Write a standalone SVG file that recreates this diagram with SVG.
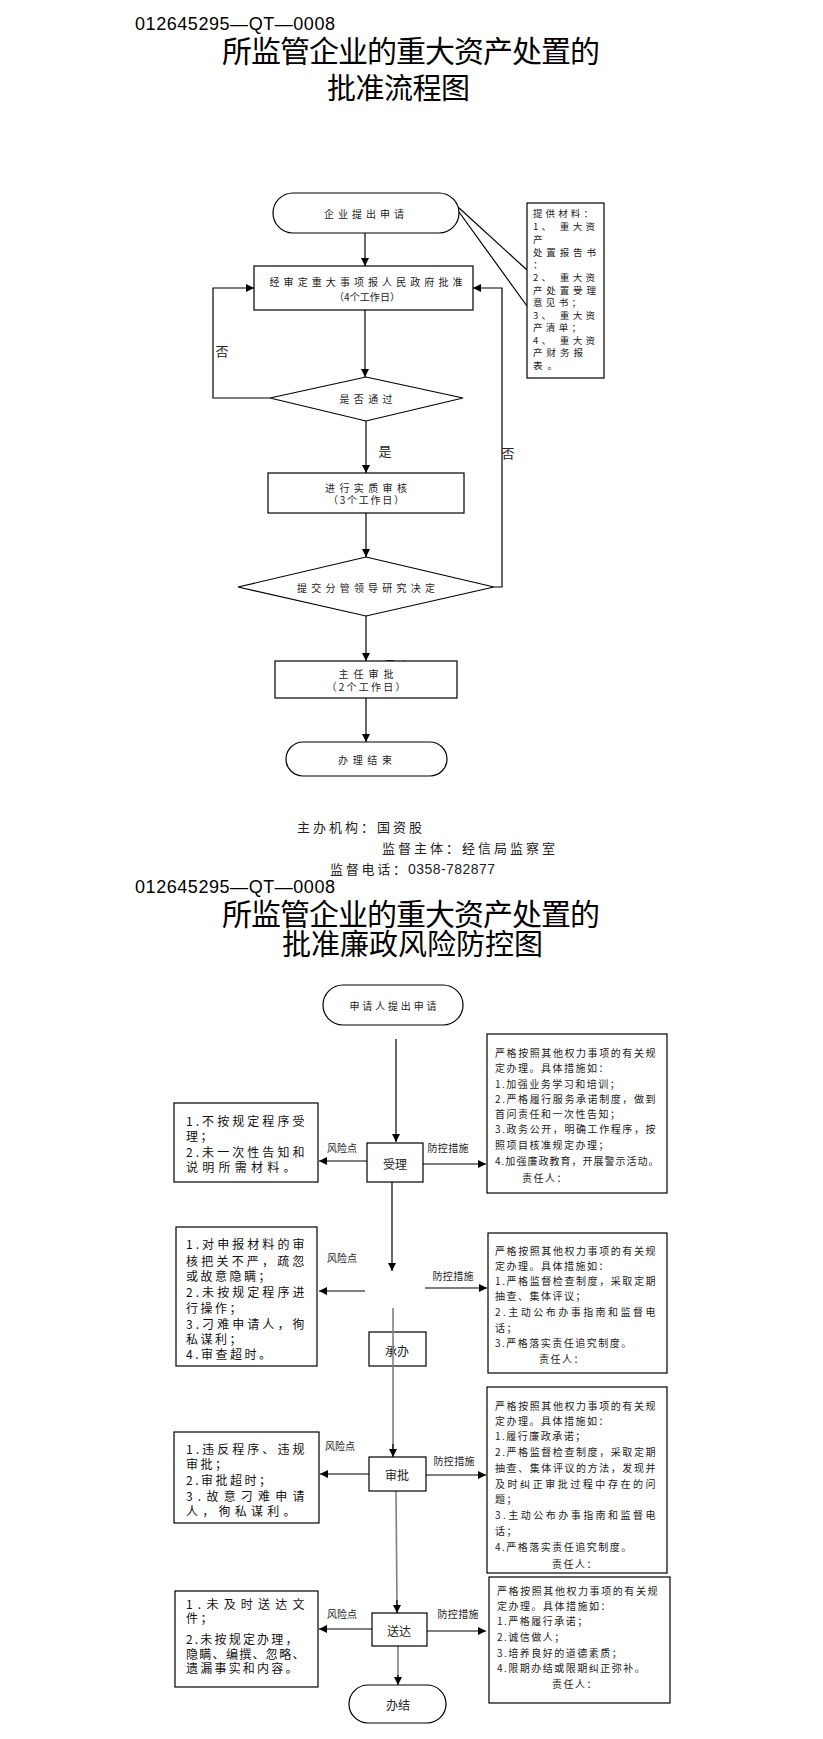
<svg xmlns="http://www.w3.org/2000/svg" width="823" height="1739" viewBox="0 0 823 1739">
<style>
.bg{fill:#fff}
.box{fill:#fff;stroke:#000;stroke-width:1.2}
.ln{fill:none;stroke:#000;stroke-width:1.2}
.gl{fill:none;stroke:#808080;stroke-width:1.6}
.code{font-family:"Liberation Sans","Noto Sans CJK SC",sans-serif;font-size:18px;fill:#000}
.title{font-family:"Noto Sans CJK SC",sans-serif;font-size:30px;fill:#000}
.title2{font-family:"Noto Sans CJK SC",sans-serif;font-size:29px;fill:#000}
.s{font-family:"Noto Sans CJK SC",sans-serif;font-size:10px;fill:#222;text-anchor:middle;dominant-baseline:central}
.n{font-family:"Noto Sans CJK SC",sans-serif;font-size:9.5px;fill:#222;dominant-baseline:central}
.lbl{font-family:"Noto Sans CJK SC",sans-serif;font-size:13px;fill:#222;text-anchor:middle;dominant-baseline:central}
.ft{font-family:"Noto Sans CJK SC",sans-serif;font-size:13px;fill:#222}
.dg{font-family:"Liberation Sans",sans-serif;font-size:14px;fill:#222}
.r{font-family:"Noto Sans CJK SC",sans-serif;font-size:12px;letter-spacing:2.5px;fill:#111;dominant-baseline:central}
.m{font-family:"Noto Sans CJK SC",sans-serif;font-size:10px;letter-spacing:1.5px;fill:#222;dominant-baseline:central}
.mc{font-family:"Noto Sans CJK SC",sans-serif;font-size:10px;letter-spacing:1.5px;fill:#222;dominant-baseline:central;text-anchor:middle}
.k{font-family:"Noto Sans CJK SC",sans-serif;font-size:10px;fill:#222;text-anchor:middle;dominant-baseline:central}
.c{font-family:"Noto Sans CJK SC",sans-serif;font-size:12px;fill:#222;text-anchor:middle;dominant-baseline:central}
</style>
<defs>
<marker id="ah" markerWidth="8" markerHeight="8" refX="8" refY="4" orient="auto" markerUnits="userSpaceOnUse">
<path d="M0,0 L8,4 L0,8 z" fill="#000"/>
</marker>
</defs>
<rect class="bg" x="0" y="0" width="823" height="1739"/>

<g id="header1">
<text class="code" x="135" y="30" textLength="200" lengthAdjust="spacing">012645295—QT—0008</text>
<text class="title" x="222" y="62" textLength="378" lengthAdjust="spacing">所监管企业的重大资产处置的</text>
<text class="title2" x="327" y="99" textLength="143" lengthAdjust="spacing">批准流程图</text>
</g>

<g id="connectors1">
<line class="ln" x1="365" y1="233" x2="365" y2="266" marker-end="url(#ah)"/>
<line class="ln" x1="365" y1="310" x2="365" y2="377" marker-end="url(#ah)"/>
<polyline class="ln" points="270,398 213,398 213,288 254,288" marker-end="url(#ah)"/>
<line class="ln" x1="366" y1="421" x2="366" y2="473" marker-end="url(#ah)"/>
<line class="ln" x1="366" y1="513" x2="366" y2="557" marker-end="url(#ah)"/>
<polyline class="ln" points="494,587 502,587 502,288 473,288" marker-end="url(#ah)"/>
<line class="ln" x1="366" y1="616" x2="366" y2="661" marker-end="url(#ah)"/>
<line class="ln" x1="366" y1="698" x2="366" y2="742" marker-end="url(#ah)"/>
<line class="ln" x1="458" y1="207" x2="527" y2="270"/>
<line class="ln" x1="459" y1="212" x2="527" y2="306"/>
<text class="lbl" x="222" y="350">否</text>
<text class="lbl" x="385" y="450">是</text>
<text class="lbl" x="508" y="452">否</text>
<text class="s" x="397" y="664" textLength="24" lengthAdjust="spacing">同意</text>
</g>

<g id="start1">
<rect class="box" x="273" y="193" width="186" height="40" rx="20"/>
<text class="s" x="364" y="213" textLength="80" lengthAdjust="spacing">企业提出申请</text>
</g>
<g id="approve_gov">
<rect class="box" x="254" y="266" width="219" height="44"/>
<text class="s" x="366" y="281" textLength="193" lengthAdjust="spacing">经审定重大事项报人民政府批准</text>
<text class="s" x="367" y="296" textLength="66" lengthAdjust="spacing">（4个工作日）</text>
</g>
<g id="pass">
<polygon class="box" points="366,377 463,398 366,421 270,398"/>
<text class="s" x="366" y="398" textLength="53" lengthAdjust="spacing">是否通过</text>
</g>
<g id="review">
<rect class="box" x="268" y="473" width="196" height="40"/>
<text class="s" x="366" y="487" textLength="82" lengthAdjust="spacing">进行实质审核</text>
<text class="s" x="366" y="499" textLength="76" lengthAdjust="spacing">（3个工作日）</text>
</g>
<g id="leader">
<polygon class="box" points="366,557 494,587 366,616 238,587"/>
<text class="s" x="366" y="587" textLength="138" lengthAdjust="spacing">提交分管领导研究决定</text>
</g>
<g id="director">
<rect class="box" x="275" y="661" width="182" height="37"/>
<text class="s" x="366" y="673" textLength="55" lengthAdjust="spacing">主任审批</text>
<text class="s" x="366" y="686" textLength="79" lengthAdjust="spacing">（2个工作日）</text>
</g>
<g id="end1">
<rect class="box" x="286" y="742" width="161" height="34" rx="17"/>
<text class="s" x="365" y="759" textLength="54" lengthAdjust="spacing">办理结束</text>
</g>
<g id="materials">
<rect class="box" x="527" y="203" width="77" height="175"/>
<text class="n" x="533" y="213" textLength="60" lengthAdjust="spacing">提供材料：</text>
<text class="n" x="533" y="226" textLength="62" lengthAdjust="spacing">1、 重大资</text>
<text class="n" x="533" y="239">产</text>
<text class="n" x="533" y="252" textLength="63" lengthAdjust="spacing">处置报告书</text>
<text class="n" x="533" y="264">：</text>
<text class="n" x="533" y="277" textLength="62" lengthAdjust="spacing">2、 重大资</text>
<text class="n" x="533" y="290" textLength="63" lengthAdjust="spacing">产处置受理</text>
<text class="n" x="533" y="302" textLength="48" lengthAdjust="spacing">意见书；</text>
<text class="n" x="533" y="315" textLength="62" lengthAdjust="spacing">3、 重大资</text>
<text class="n" x="533" y="327" textLength="48" lengthAdjust="spacing">产清单；</text>
<text class="n" x="533" y="340" textLength="62" lengthAdjust="spacing">4、 重大资</text>
<text class="n" x="533" y="352" textLength="50" lengthAdjust="spacing">产财务报</text>
<text class="n" x="533" y="365" textLength="24" lengthAdjust="spacing">表。</text>
</g>

<g id="footer">
<text class="ft" x="297" y="832" textLength="125" lengthAdjust="spacing">主办机构：国资股</text>
<text class="ft" x="382" y="853" textLength="173" lengthAdjust="spacing">监督主体：经信局监察室</text>
<text class="ft" x="330" y="874" textLength="76" lengthAdjust="spacing">监督电话：</text>
<text class="dg" x="408" y="874" textLength="87" lengthAdjust="spacing">0358-782877</text>
</g>

<g id="header2">
<text class="code" x="135" y="893" textLength="200" lengthAdjust="spacing">012645295—QT—0008</text>
<text class="title" x="222" y="925" textLength="378" lengthAdjust="spacing">所监管企业的重大资产处置的</text>
<text class="title2" x="282" y="955" textLength="261" lengthAdjust="spacing">批准廉政风险防控图</text>
</g>

<g id="connectors2">
<line class="ln" x1="396" y1="1039" x2="396" y2="1142" stroke="#222" marker-end="url(#ah)"/>
<line class="ln" x1="392" y1="1182" x2="392" y2="1271" marker-end="url(#ah)"/>
<line class="ln" x1="367" y1="1161" x2="319" y2="1161" marker-end="url(#ah)"/>
<line class="ln" x1="423" y1="1164" x2="486" y2="1164" marker-end="url(#ah)"/>
<line class="ln" x1="365" y1="1291" x2="319" y2="1291" marker-end="url(#ah)"/>
<line class="ln" x1="425" y1="1288" x2="487" y2="1288" marker-end="url(#ah)"/>
<line class="ln" x1="369" y1="1474" x2="320" y2="1474" marker-end="url(#ah)"/>
<line class="ln" x1="426" y1="1475" x2="486" y2="1475" marker-end="url(#ah)"/>
<line class="gl" x1="396" y1="1491" x2="397" y2="1605"/>
<line class="ln" x1="397" y1="1600" x2="397" y2="1613" marker-end="url(#ah)"/>
<line class="ln" x1="372" y1="1629" x2="319" y2="1629" marker-end="url(#ah)"/>
<line class="ln" x1="427" y1="1631" x2="486" y2="1631" marker-end="url(#ah)"/>
<line class="gl" x1="398" y1="1646" x2="398" y2="1680"/>
<line class="ln" x1="398" y1="1675" x2="398" y2="1685" marker-end="url(#ah)"/>
<text class="k" x="342" y="1147" textLength="30" lengthAdjust="spacing">风险点</text>
<text class="k" x="448" y="1147" textLength="41" lengthAdjust="spacing">防控措施</text>
<text class="k" x="342" y="1257" textLength="30" lengthAdjust="spacing">风险点</text>
<text class="k" x="453" y="1275" textLength="41" lengthAdjust="spacing">防控措施</text>
<text class="k" x="340" y="1445" textLength="30" lengthAdjust="spacing">风险点</text>
<text class="k" x="454" y="1460" textLength="41" lengthAdjust="spacing">防控措施</text>
<text class="k" x="342" y="1613" textLength="30" lengthAdjust="spacing">风险点</text>
<text class="k" x="458" y="1613" textLength="41" lengthAdjust="spacing">防控措施</text>
</g>

<g id="start2">
<rect class="box" x="323" y="985" width="140" height="40" rx="20"/>
<text class="k" x="393" y="1005" textLength="87" lengthAdjust="spacing">申请人提出申请</text>
</g>

<g id="accept">
<rect class="box" x="367" y="1143" width="56" height="39"/>
<text class="c" x="395" y="1163">受理</text>
</g>
<g id="risk1">
<rect class="box" x="174" y="1103" width="144" height="79"/>
<text class="r" x="186" y="1120" textLength="121" lengthAdjust="spacing">1.不按规定程序受</text>
<text class="r" x="186" y="1135">理；</text>
<text class="r" x="186" y="1151" textLength="121" lengthAdjust="spacing">2.未一次性告知和</text>
<text class="r" x="186" y="1166" textLength="112" lengthAdjust="spacing">说明所需材料。</text>
</g>
<g id="ctrl1">
<rect class="box" x="487" y="1034" width="180" height="159"/>
<text class="m" x="495" y="1052" textLength="162" lengthAdjust="spacing">严格按照其他权力事项的有关规</text>
<text class="m" x="495" y="1067">定办理。具体措施如：</text>
<text class="m" x="495" y="1083">1.加强业务学习和培训；</text>
<text class="m" x="495" y="1098" textLength="162" lengthAdjust="spacing">2.严格履行服务承诺制度，做到</text>
<text class="m" x="495" y="1113">首问责任和一次性告知；</text>
<text class="m" x="495" y="1128" textLength="162" lengthAdjust="spacing">3.政务公开，明确工作程序，按</text>
<text class="m" x="495" y="1144">照项目核准规定办理；</text>
<text class="m" x="495" y="1160" textLength="165" lengthAdjust="spacing">4.加强廉政教育，开展警示活动。</text>
<text class="m" x="522" y="1177">责任人：</text>
</g>

<g id="handle">
<rect class="box" x="369" y="1332" width="57" height="34"/>
<text class="c" x="397" y="1350">承办</text>
</g>
<line class="gl" x1="393" y1="1308" x2="393" y2="1452"/>
<line class="ln" x1="393" y1="1444" x2="393" y2="1457" marker-end="url(#ah)"/>
<g id="risk2">
<rect class="box" x="176" y="1227" width="141" height="139"/>
<text class="r" x="186" y="1243" textLength="121" lengthAdjust="spacing">1.对申报材料的审</text>
<text class="r" x="186" y="1260" textLength="121" lengthAdjust="spacing">核把关不严，疏忽</text>
<text class="r" x="186" y="1275">或故意隐瞒；</text>
<text class="r" x="186" y="1291" textLength="121" lengthAdjust="spacing">2.未按规定程序进</text>
<text class="r" x="186" y="1307">行操作；</text>
<text class="r" x="186" y="1323" textLength="121" lengthAdjust="spacing">3.刁难申请人，徇</text>
<text class="r" x="186" y="1338">私谋利；</text>
<text class="r" x="186" y="1353">4.审查超时。</text>
</g>
<g id="ctrl2">
<rect class="box" x="488" y="1233" width="179" height="140"/>
<text class="m" x="495" y="1250" textLength="162" lengthAdjust="spacing">严格按照其他权力事项的有关规</text>
<text class="m" x="495" y="1265">定办理。具体措施如：</text>
<text class="m" x="495" y="1280" textLength="162" lengthAdjust="spacing">1.严格监督检查制度，采取定期</text>
<text class="m" x="495" y="1295">抽查、集体评议；</text>
<text class="m" x="495" y="1311" textLength="162" lengthAdjust="spacing">2.主动公布办事指南和监督电</text>
<text class="m" x="495" y="1327">话；</text>
<text class="m" x="495" y="1342">3.严格落实责任追究制度。</text>
<text class="mc" x="562" y="1358">责任人：</text>
</g>

<g id="approve">
<rect class="box" x="369" y="1457" width="57" height="34"/>
<text class="c" x="397" y="1474">审批</text>
</g>
<g id="risk3">
<rect class="box" x="174" y="1432" width="145" height="91"/>
<text class="r" x="186" y="1448" textLength="121" lengthAdjust="spacing">1.违反程序、违规</text>
<text class="r" x="186" y="1463">审批；</text>
<text class="r" x="186" y="1479">2.审批超时；</text>
<text class="r" x="186" y="1495" textLength="121" lengthAdjust="spacing">3.故意刁难申请</text>
<text class="r" x="186" y="1510" textLength="112" lengthAdjust="spacing">人，徇私谋利。</text>
</g>
<g id="ctrl3">
<rect class="box" x="487" y="1387" width="180" height="186"/>
<text class="m" x="495" y="1405" textLength="162" lengthAdjust="spacing">严格按照其他权力事项的有关规</text>
<text class="m" x="495" y="1420">定办理。具体措施如：</text>
<text class="m" x="495" y="1435">1.履行廉政承诺；</text>
<text class="m" x="495" y="1451" textLength="162" lengthAdjust="spacing">2.严格监督检查制度，采取定期</text>
<text class="m" x="495" y="1467" textLength="162" lengthAdjust="spacing">抽查、集体评议的方法，发现并</text>
<text class="m" x="495" y="1483" textLength="162" lengthAdjust="spacing">及时纠正审批过程中存在的问</text>
<text class="m" x="495" y="1498">题；</text>
<text class="m" x="495" y="1514" textLength="162" lengthAdjust="spacing">3.主动公布办事指南和监督电</text>
<text class="m" x="495" y="1530">话；</text>
<text class="m" x="495" y="1546">4.严格落实责任追究制度。</text>
<text class="mc" x="575" y="1563">责任人：</text>
</g>

<g id="deliver">
<rect class="box" x="372" y="1613" width="55" height="33"/>
<text class="c" x="399" y="1630">送达</text>
</g>
<g id="risk4">
<rect class="box" x="175" y="1591" width="143" height="96"/>
<text class="r" x="186" y="1603" textLength="121" lengthAdjust="spacing">1.未及时送达文</text>
<text class="r" x="186" y="1617">件；</text>
<text class="r" x="186" y="1638" textLength="114" lengthAdjust="spacing">2.未按规定办理，</text>
<text class="r" x="186" y="1653" textLength="121" lengthAdjust="spacing">隐瞒、编撰、忽略、</text>
<text class="r" x="186" y="1667" textLength="114" lengthAdjust="spacing">遗漏事实和内容。</text>
</g>
<g id="ctrl4">
<rect class="box" x="489" y="1577" width="181" height="126"/>
<text class="m" x="497" y="1590" textLength="162" lengthAdjust="spacing">严格按照其他权力事项的有关规</text>
<text class="m" x="497" y="1605">定办理。具体措施如：</text>
<text class="m" x="497" y="1620">1.严格履行承诺；</text>
<text class="m" x="497" y="1636">2.诚信做人；</text>
<text class="m" x="497" y="1652">3.培养良好的道德素质；</text>
<text class="m" x="497" y="1667">4.限期办结或限期纠正弥补。</text>
<text class="mc" x="575" y="1683">责任人：</text>
</g>
<g id="end2">
<rect class="box" x="349" y="1685" width="97" height="38" rx="19"/>
<text class="c" x="398" y="1704">办结</text>
</g>
</svg>
